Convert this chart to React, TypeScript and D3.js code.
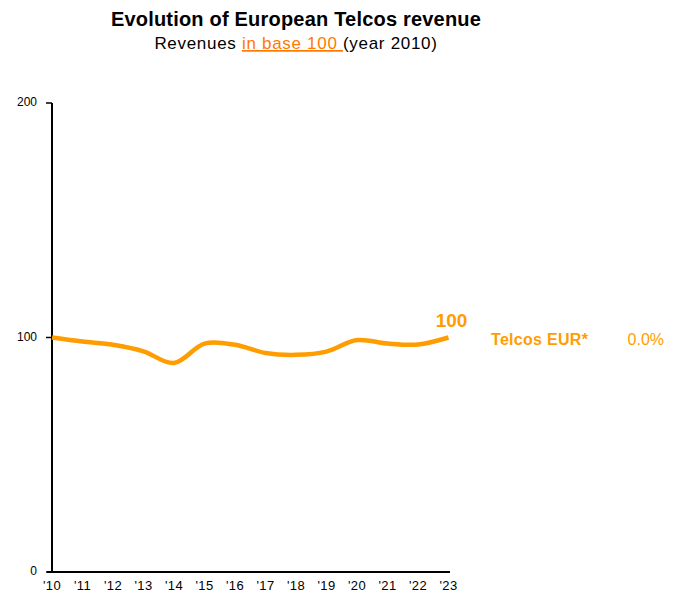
import { useRef, useEffect } from "react";
import * as d3 from "d3";

const years = [2010, 2011, 2012, 2013, 2014, 2015, 2016, 2017, 2018, 2019, 2020, 2021, 2022, 2023];
const revenue = [100, 98.3, 96.9, 94.1, 89.1, 97.4, 96.9, 93.4, 92.6, 94.0, 98.9, 97.4, 97.0, 100];
const yTicks = [0, 100, 200];
const seriesName = "Telcos EUR*";
const seriesChange = "0.0%";

const LINE = "#ff9d00";
const ACCENT = "#ff7900";
const FONT = "'Liberation Sans', Arial, Helvetica, sans-serif";

export default function App() {
  const ref = useRef<SVGSVGElement>(null);

  useEffect(() => {
    if (!ref.current) return;
    const svg = d3.select(ref.current); svg.selectAll("*").remove();
    const W = 675, H = 608;
    svg.attr("width", W).attr("height", H).style("font-family", FONT);

    const x = d3.scaleLinear().domain([2010, 2023]).range([52, 448.5]);
    const y = d3.scaleLinear().domain([0, 200]).range([572, 103]);

    // title
    svg.append("text").attr("x", 296).attr("y", 26).attr("text-anchor", "middle")
      .attr("font-size", "20px").attr("font-weight", "bold").attr("letter-spacing", "0.2").attr("fill", "#000")
      .text("Evolution of European Telcos revenue");
    const sub = svg.append("text").attr("x", 296).attr("y", 49).attr("text-anchor", "middle")
      .attr("font-size", "17px").attr("letter-spacing", "0.7").attr("fill", "#000");
    sub.append("tspan").text("Revenues ");
    sub.append("tspan").attr("fill", ACCENT).attr("text-decoration", "underline").text("in base 100 ");
    sub.append("tspan").text("(year 2010)");

    // y axis
    svg.append("line").attr("x1", 52).attr("x2", 52).attr("y1", y(200)).attr("y2", y(0) + 1)
      .attr("stroke", "#000").attr("stroke-width", 2);
    yTicks.forEach(t => {
      svg.append("line").attr("x1", 46).attr("x2", 52).attr("y1", y(t)).attr("y2", y(t))
        .attr("stroke", "#000").attr("stroke-width", 1.5);
      svg.append("text").attr("x", 37).attr("y", y(t) + 3).attr("text-anchor", "end")
        .attr("font-size", "12px").attr("fill", "#000").text(t);
    });

    // x axis
    svg.append("line").attr("x1", 47).attr("x2", 450).attr("y1", y(0)).attr("y2", y(0))
      .attr("stroke", "#000").attr("stroke-width", 2);
    years.forEach(yr => {
      svg.append("text").attr("x", x(yr)).attr("y", 590).attr("text-anchor", "middle")
        .attr("font-size", "13px").attr("letter-spacing", "0.3").attr("fill", "#000").text("'" + String(yr).slice(2));
    });

    // series
    const line = d3.line<number>().x((_d, i) => x(years[i])).y(d => y(d)).curve(d3.curveCatmullRom.alpha(0.5));
    svg.append("path").datum(revenue).attr("fill", "none").attr("stroke", LINE)
      .attr("stroke-width", 4.5).attr("stroke-linecap", "butt").attr("d", line);

    const last = revenue[revenue.length - 1];
    svg.append("text").attr("x", x(2023) + 3).attr("y", y(last) - 11).attr("text-anchor", "middle")
      .attr("font-size", "19px").attr("font-weight", "bold").attr("fill", LINE).text(Math.round(last));
    svg.append("text").attr("x", 491).attr("y", y(last) + 7)
      .attr("font-size", "16px").attr("font-weight", "bold").attr("fill", LINE).attr("letter-spacing", "0.3")
      .text(seriesName);
    svg.append("text").attr("x", 664).attr("y", y(last) + 7).attr("text-anchor", "end")
      .attr("font-size", "16px").attr("fill", LINE).text(seriesChange);
  }, []);

  return (
    <div style={{ margin: -8 }}>
      <svg ref={ref} style={{ display: "block" }} />
    </div>
  );
}
